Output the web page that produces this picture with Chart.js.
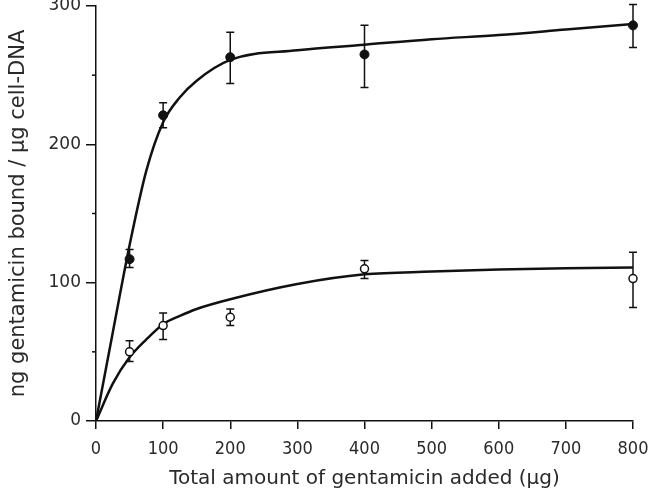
<!DOCTYPE html>
<html lang="en">
<head>
    <meta charset="UTF-8">
    <title>Gentamicin binding</title>
    <script src="https://cdn.jsdelivr.net/npm/chart.js"></script>
    <style>
        body { margin: 0; background: #fff; }
        #wrap { width: 648px; height: 495px; }
    </style>
</head>
<body>
    <div id="wrap"><canvas id="bindChart" width="648" height="495"></canvas></div>

    <script>
        // measured points (mean with error bar ends)
        const doses = [50, 100, 200, 400, 800];
        const filledMean = [117, 221, 263, 265, 286];
        const filledLow  = [111, 212, 244, 241, 270];
        const filledHigh = [124, 230, 281, 286, 301];
        const openMean = [50, 69, 75, 110, 103];
        const openLow  = [43, 59, 69, 103, 82];
        const openHigh = [58, 78, 81, 116, 122];

        // fitted curves
        const curveX = [0, 25, 50, 75, 100, 125, 150, 200, 300, 400, 500, 600, 700, 800];
        const filledCurve = [0, 64, 127, 181, 216, 234, 246, 261, 268, 272, 276, 279, 283, 287];
        const openCurve   = [0, 27, 46, 59, 70, 76, 81, 88, 99, 106, 108, 109.5, 110.5, 111];

        const yMinor = [50, 150, 250];
        const ink = '#111';
        const textInk = '#2a2a2a';
        const condensed = "'DejaVu Sans Condensed', 'Liberation Sans Narrow', 'DejaVu Sans', sans-serif";
        const regular = "'DejaVu Sans', sans-serif";

        const toXY = (xs, ys) => xs.map((x, i) => ({ x: x, y: ys[i] }));

        // error bars + minor y ticks, positioned through the chart scales
        const errorBars = {
            id: 'errorBars',
            beforeDatasetsDraw(chart) {
                const { ctx, scales: { x, y } } = chart;
                ctx.save();
                ctx.strokeStyle = ink;
                ctx.lineWidth = 1.5;
                [[filledLow, filledHigh], [openLow, openHigh]].forEach(([lo, hi]) => {
                    doses.forEach((d, i) => {
                        const px = x.getPixelForValue(d);
                        const y1 = y.getPixelForValue(lo[i]);
                        const y2 = y.getPixelForValue(hi[i]);
                        ctx.beginPath();
                        ctx.moveTo(px, y1); ctx.lineTo(px, y2);
                        ctx.moveTo(px - 4, y1); ctx.lineTo(px + 4, y1);
                        ctx.moveTo(px - 4, y2); ctx.lineTo(px + 4, y2);
                        ctx.stroke();
                    });
                });
                // short minor ticks on the y axis
                const left = chart.chartArea.left;
                yMinor.forEach(v => {
                    const py = y.getPixelForValue(v);
                    ctx.beginPath();
                    ctx.moveTo(left - 4, py); ctx.lineTo(left, py);
                    ctx.stroke();
                });
                ctx.restore();
            }
        };

        new Chart(document.getElementById('bindChart'), {
            type: 'line',
            data: {
                datasets: [
                    {
                        data: toXY(curveX, filledCurve),
                        borderColor: ink, borderWidth: 2.5,
                        pointRadius: 0, cubicInterpolationMode: 'monotone', order: 3
                    },
                    {
                        data: toXY(curveX, openCurve),
                        borderColor: ink, borderWidth: 2.5,
                        pointRadius: 0, cubicInterpolationMode: 'monotone', order: 3
                    },
                    {
                        data: toXY(doses, filledMean),
                        showLine: false, pointRadius: 4.5, clip: false,
                        pointBackgroundColor: ink, pointBorderColor: ink, order: 1
                    },
                    {
                        data: toXY(doses, openMean),
                        showLine: false, pointRadius: 4, clip: false,
                        pointBackgroundColor: '#fff', pointBorderColor: ink,
                        pointBorderWidth: 1.5, order: 1
                    }
                ]
            },
            options: {
                responsive: false,
                animation: false,
                events: [],
                layout: { padding: { top: 6, right: 15, left: 0, bottom: 0 } },
                plugins: { legend: { display: false }, tooltip: { enabled: false } },
                scales: {
                    x: {
                        type: 'linear', min: 0, max: 800,
                        grid: { drawOnChartArea: false, tickLength: 8, color: ink, lineWidth: 1.5 },
                        border: { color: ink, width: 1.5 },
                        ticks: { stepSize: 100, color: textInk, font: { family: condensed, size: 18 }, padding: 10, maxRotation: 0 },
                        title: {
                            display: true, text: 'Total amount of gentamicin added (µg)',
                            color: textInk, font: { family: regular, size: 20 }, padding: { top: 1 }
                        },
                        afterFit(scale) { scale.height = 74; scale.paddingLeft = 0; scale.paddingRight = 0; }
                    },
                    y: {
                        min: 0, max: 300,
                        grid: {
                            drawOnChartArea: false, tickLength: 10, lineWidth: 1.5,
                            tickColor: c => (c.tick && c.tick.value % 100 === 0) ? ink : 'rgba(0,0,0,0)'
                        },
                        border: { color: ink, width: 1.5 },
                        ticks: {
                            stepSize: 50, color: textInk, font: { family: regular, size: 17 }, padding: 5,
                            callback: v => v % 100 === 0 ? v : ''
                        },
                        title: {
                            display: true, text: 'ng gentamicin bound / µg cell-DNA',
                            color: textInk, font: { family: regular, size: 21 }, padding: { top: 6, bottom: 2 }
                        },
                        afterFit(scale) { scale.width = 96; scale.paddingTop = 0; scale.paddingBottom = 0; }
                    }
                }
            },
            plugins: [errorBars]
        });
    </script>
</body>
</html>
